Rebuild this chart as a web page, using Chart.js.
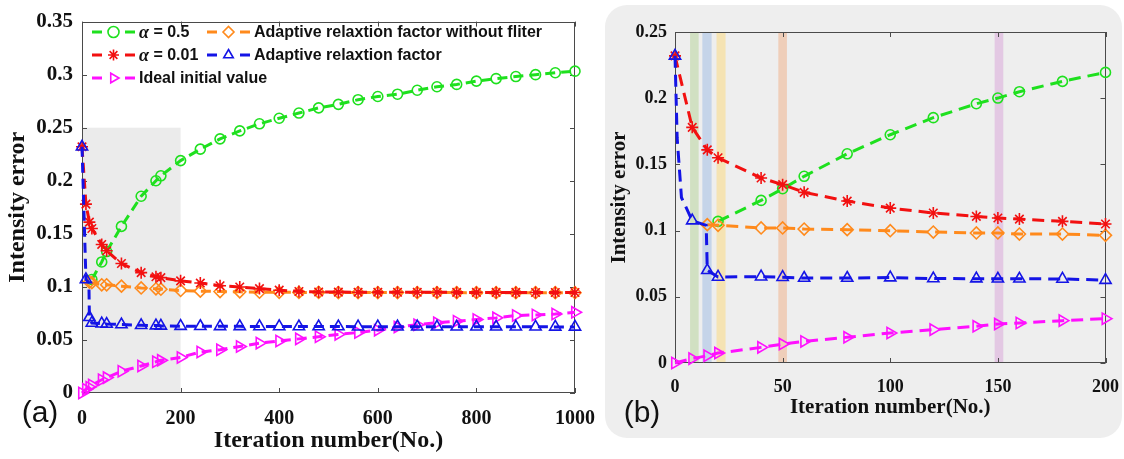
<!DOCTYPE html>
<html>
<head>
<meta charset="utf-8">
<script src="https://cdn.jsdelivr.net/npm/chart.js@4.4.0/dist/chart.umd.min.js"></script>
<style>
  html, body { margin: 0; padding: 0; background: #fff; }
  body { width: 1124px; height: 459px; position: relative; overflow: hidden; }
  #wrapA { position: absolute; left: 0; top: 0; width: 601px; height: 459px; }
  #wrapB { position: absolute; left: 605px; top: 5px; width: 517px; height: 433px; background: #eeeeee; border-radius: 22px; overflow: hidden; }
</style>
</head>
<body>
<div id="wrapA"><canvas id="chartA" width="601" height="459"></canvas></div>
<div id="wrapB"><canvas id="chartB" width="520" height="433"></canvas></div>
<script>
// ---- panel (a): 0..1000 iterations ----
const itA = [0, 8, 15, 20, 40, 50, 80, 120, 150, 160, 200, 240, 280, 320, 360, 400, 440, 480, 520, 560, 600, 640, 680, 720, 760, 800, 840, 880, 920, 960, 1000];
const greenA = [null, null, null, 0.107, 0.1235, 0.1333, 0.157, 0.1854, 0.200, 0.2047, 0.219,
  0.2298, 0.2395, 0.247, 0.2537, 0.2589, 0.2638, 0.2687, 0.272, 0.2764, 0.2794, 0.2816, 0.2853, 0.2886, 0.2908, 0.2939, 0.2963, 0.2982, 0.300, 0.3018, 0.3033];
const redA = [0.232, 0.178, 0.161, 0.155, 0.140, 0.134, 0.122, 0.1134, 0.1095, 0.1087, 0.1057,
  0.1036, 0.1011, 0.0999, 0.0984, 0.0969, 0.0957, 0.0952, 0.0951, 0.095, 0.095, 0.0949, 0.0949, 0.0949, 0.0948, 0.0948, 0.0948, 0.0948, 0.0947, 0.0947, 0.0947];
const magentaA = [0, 0.0035, 0.0055, 0.0075, 0.0125, 0.0145, 0.0205, 0.0255, 0.0294, 0.0308, 0.0335,
  0.0386, 0.0408, 0.0438, 0.047, 0.049, 0.051, 0.053, 0.0552, 0.057, 0.0592, 0.0622, 0.0643, 0.0662, 0.0677, 0.0693, 0.0708, 0.073, 0.0736, 0.0745, 0.076];
const orangeA = [null, null, 0.1045, 0.104, 0.102, 0.102, 0.1007, 0.099, 0.0982, 0.0978, 0.0966,
  0.096, 0.0956, 0.0953, 0.095, 0.0949, 0.0948, 0.0948, 0.0947, 0.0947, 0.0947, 0.0946, 0.0946, 0.0946, 0.0946, 0.0945, 0.0945, 0.0945, 0.0945, 0.0945, 0.0945];
const itBlueA = [0, 8, 14, 15, 20, 40, 50, 80, 120, 150, 160, 200, 240, 280, 320, 360, 400, 440, 480, 520, 560, 600, 640, 680, 720, 760, 800, 840, 880, 920, 960, 1000];
const blueA = [0.232, 0.107, 0.104, 0.0714, 0.066, 0.0653, 0.065, 0.0645, 0.0638, 0.0635, 0.0633, 0.063,
  0.0629, 0.0628, 0.0628, 0.0627, 0.0627, 0.0626, 0.0626, 0.0626, 0.0625, 0.0625, 0.0625, 0.0625, 0.0624, 0.0624, 0.0624, 0.0624, 0.0624, 0.0624, 0.0623, 0.0623];
const yLabelsA = ['0', '0.05', '0.1', '0.15', '0.2', '0.25', '0.3', '0.35'];
const zoomBoxA = [0, 200, 0, 0.25]; // x from, x to, y from, y to

// ---- panel (b): first 200 iterations ----
const itB = [0, 8, 15, 20, 40, 50, 60, 80, 100, 120, 140, 150, 160, 180, 200];
const greenB = [null, null, null, 0.107, 0.1228, 0.1316, 0.141, 0.158, 0.1724, 0.1853, 0.1958, 0.2001, 0.2049, 0.2127, 0.2195];
const redB = [0.232, 0.178, 0.161, 0.155, 0.1397, 0.1347, 0.1289, 0.1223, 0.117, 0.1133, 0.1107, 0.1095, 0.1087, 0.107, 0.105];
const magentaB = [0, 0.0033, 0.0055, 0.0075, 0.0118, 0.0143, 0.0163, 0.0194, 0.0227, 0.0252, 0.0277, 0.0294, 0.0302, 0.032, 0.0335];
const orangeB = [null, null, 0.1045, 0.104, 0.102, 0.102, 0.1012, 0.1007, 0.0999, 0.0989, 0.0982, 0.0982, 0.0974, 0.0974, 0.0964];
const itBlueB = [0, 1, 3, 8, 14.5, 15, 20, 40, 50, 60, 80, 100, 120, 140, 150, 160, 180, 200];
const blueB = [0.232, 0.17, 0.125, 0.1075, 0.104, 0.070, 0.065, 0.0652, 0.0648, 0.0642, 0.0642, 0.0645, 0.0638, 0.0637, 0.0636, 0.0636, 0.0635, 0.0626];
const yLabelsB = ['0', '0.05', '0.1', '0.15', '0.2', '0.25'];
const bandsB = [[7, 11], [12.7, 17], [19.3, 23.5], [48, 52], [148.5, 152.5]];
const bandColors = ['rgba(190,215,165,0.6)', 'rgba(170,195,230,0.6)', 'rgba(250,220,140,0.6)', 'rgba(240,185,150,0.6)', 'rgba(220,175,220,0.6)'];

const labels = ['α = 0.5', 'α = 0.01', 'Ideal initial value', 'Adaptive relaxtion factor without fliter', 'Adaptive relaxtion factor'];
const SERIF = "'Liberation Serif', 'Times New Roman', serif";
const SANS = "'Liberation Sans', Arial, sans-serif";

function pts(xs, ys) {
  return xs.map((x, i) => ({ x: x, y: ys[i] })).filter(p => p.y !== null);
}

// markers only at the sampled iterations, bend points of the blue path get none
function series(label, xs, ys, marked, color, style, rot, r, order, dash, lw) {
  return {
    label: label, data: pts(xs, ys),
    borderColor: color, backgroundColor: color,
    borderWidth: lw, borderDash: dash,
    pointStyle: style, pointRotation: rot,
    pointRadius: c => (c.raw && marked.includes(c.raw.x)) ? r : 0,
    pointBorderColor: color, pointBackgroundColor: 'rgba(0,0,0,0)', pointBorderWidth: 1.6,
    tension: 0, clip: false, order: order
  };
}

function makeSets(g, r, m, o, b, itG, itB2, dash, lw) {
  return [
    series(labels[0], itG, g, itG, '#1ee01e', 'circle', 0, 5, 3, dash, lw),
    series(labels[1], itG, r, itG, '#f21010', 'star', 0, 6, 1, dash, lw),
    series(labels[2], itG, m, itG, '#ff10ff', 'triangle', 90, 6.5, 4, dash, lw),
    series(labels[3], itG, o, itG, '#ff8a1c', 'rectRot', 0, 6, 2, dash, lw),
    series(labels[4], itB2, b, itG, '#1414e6', 'triangle', 0, 6.5, 0, dash, lw)
  ];
}

const framePlugin = {
  id: 'frame',
  beforeDatasetsDraw(chart) {
    const { ctx, chartArea: a, scales: { x, y } } = chart;
    const o = chart.options.plugins.frame;
    ctx.save();
    if (o.shade) {
      const [x0, x1, y0, y1] = o.shade;
      ctx.fillStyle = '#ebebeb';
      const l = x.getPixelForValue(x0), rr = x.getPixelForValue(x1);
      const t = y.getPixelForValue(y1), bb = y.getPixelForValue(y0);
      ctx.fillRect(l, t, rr - l, bb - t);
    }
    if (o.bands) {
      o.bands.forEach((b, i) => {
        ctx.fillStyle = bandColors[i];
        const l = x.getPixelForValue(b[0]), rr = x.getPixelForValue(b[1]);
        ctx.fillRect(l, a.top, rr - l, a.height);
      });
    }
    ctx.strokeStyle = '#4a4a4a';
    ctx.lineWidth = 1;
    ctx.strokeRect(Math.round(a.left) + 0.5, Math.round(a.top) + 0.5, Math.round(a.width) - 1, Math.round(a.height) - 1);
    ctx.beginPath();
    const tl = 5;
    x.ticks.forEach(t => {
      const px = Math.round(x.getPixelForValue(t.value)) + 0.5;
      ctx.moveTo(px, a.bottom); ctx.lineTo(px, a.bottom - tl);
      ctx.moveTo(px, a.top); ctx.lineTo(px, a.top + tl);
    });
    y.ticks.forEach(t => {
      const py = Math.round(y.getPixelForValue(t.value)) + 0.5;
      ctx.moveTo(a.left, py); ctx.lineTo(a.left + tl, py);
      ctx.moveTo(a.right, py); ctx.lineTo(a.right - tl, py);
    });
    ctx.stroke();
    ctx.restore();
  },
  afterDraw(chart) {
    const o = chart.options.plugins.frame;
    const ctx = chart.ctx;
    ctx.save();
    ctx.fillStyle = '#111';
    ctx.font = '30px ' + SANS;
    ctx.textAlign = 'center';
    ctx.textBaseline = 'middle';
    ctx.fillText(o.tag, o.tagX, o.tagY);
    ctx.restore();
  }
};

const legendPlugin = {
  id: 'boxLegend',
  afterDatasetsDraw(chart) {
    const o = chart.options.plugins.boxLegend;
    if (!o || !o.show) return;
    const ctx = chart.ctx;
    const cols = [92, 207];
    const rows = [32, 55, 78];
    ctx.save();
    chart.data.datasets.forEach((ds, i) => {
      const c = i < 3 ? 0 : 1;
      const r = i < 3 ? i : i - 3;
      const x0 = cols[c], y0 = rows[r];
      ctx.strokeStyle = ds.borderColor;
      ctx.lineWidth = 3;
      ctx.setLineDash([]);
      ctx.beginPath();
      ctx.moveTo(x0, y0); ctx.lineTo(x0 + 10, y0);
      ctx.moveTo(x0 + 33, y0); ctx.lineTo(x0 + 43, y0);
      ctx.stroke();
      ctx.lineWidth = 1.6;
      ctx.fillStyle = 'rgba(0,0,0,0)';
      Chart.helpers.drawPoint(ctx, { pointStyle: ds.pointStyle, rotation: ds.pointRotation, radius: 5.5, borderWidth: 1.6 }, x0 + 21.5, y0);
      ctx.fillStyle = '#111';
      ctx.textBaseline = 'middle';
      ctx.textAlign = 'left';
      let tx = x0 + 47;
      let txt = ds.label;
      if (txt.charAt(0) === 'α') {
        ctx.font = 'italic bold 18px ' + SERIF;
        ctx.fillText('α', tx, y0 + 1);
        tx += ctx.measureText('α').width;
        txt = txt.slice(1);
      }
      ctx.font = 'bold 16px ' + SANS;
      ctx.fillText(txt, tx, y0 + 1);
    });
    ctx.restore();
  }
};

function axisOpts(cfg) {
  return {
    x: {
      type: 'linear', min: 0, max: cfg.xmax,
      grid: { display: false, tickLength: 8 }, border: { display: false },
      ticks: { stepSize: cfg.xstep, color: '#111', padding: cfg.xpad, maxRotation: 0,
        font: { family: SERIF, weight: 'bold', size: cfg.xtick },
        callback: v => String(v) },
      title: { display: true, text: 'Iteration number(No.)', color: '#111',
        font: { family: SERIF, weight: 'bold', size: cfg.title }, padding: { top: 0, bottom: cfg.xtpad } },
      afterFit: s => { s.height = cfg.xh; }
    },
    y: {
      min: 0, max: cfg.ymax,
      grid: { display: false, drawTicks: false }, border: { display: false },
      ticks: { stepSize: 0.05, color: '#111', padding: cfg.ypad,
        font: { family: SERIF, weight: 'bold', size: cfg.ytick },
        callback: (v, i) => cfg.ylabels[i] },
      title: { display: true, text: 'Intensity error', color: '#111',
        font: { family: SERIF, weight: 'bold', size: cfg.title }, padding: { top: cfg.ytpad, bottom: 0 } },
      afterFit: s => { s.width = cfg.yw; }
    }
  };
}

new Chart(document.getElementById('chartA').getContext('2d'), {
  type: 'line',
  data: { datasets: makeSets(greenA, redA, magentaA, orangeA, blueA, itA, itBlueA, [10, 6], 3) },
  options: {
    responsive: false, animation: false,
    layout: { padding: { top: 13, right: 20, left: 0, bottom: 0 } },
    plugins: {
      legend: { display: false }, tooltip: { enabled: false },
      frame: { shade: zoomBoxA, tag: '(a)', tagX: 40, tagY: 414 },
      boxLegend: { show: true }
    },
    scales: axisOpts({ xmax: 1000, xstep: 200, xtick: 20, ytick: 21, title: 24, xpad: 6, ypad: 9,
      xtpad: 4, ytpad: 3, xh: 66, yw: 82, ymax: 0.35, ylabels: yLabelsA })
  },
  plugins: [framePlugin, legendPlugin]
});

new Chart(document.getElementById('chartB').getContext('2d'), {
  type: 'line',
  data: { datasets: makeSets(greenB, redB, magentaB, orangeB, blueB, itB, itBlueB, [12, 7], 3) },
  options: {
    responsive: false, animation: false,
    layout: { padding: { top: 27, right: 15, left: 0, bottom: 0 } },
    plugins: {
      legend: { display: false }, tooltip: { enabled: false },
      frame: { bands: bandsB, tag: '(b)', tagX: 37, tagY: 409 },
      boxLegend: { show: false }
    },
    scales: axisOpts({ xmax: 200, xstep: 50, xtick: 18, ytick: 18, title: 21, xpad: 6, ypad: 8,
      xtpad: 18, ytpad: 2, xh: 75, yw: 70, ymax: 0.25, ylabels: yLabelsB })
  },
  plugins: [framePlugin, legendPlugin]
});
</script>
</body>
</html>
